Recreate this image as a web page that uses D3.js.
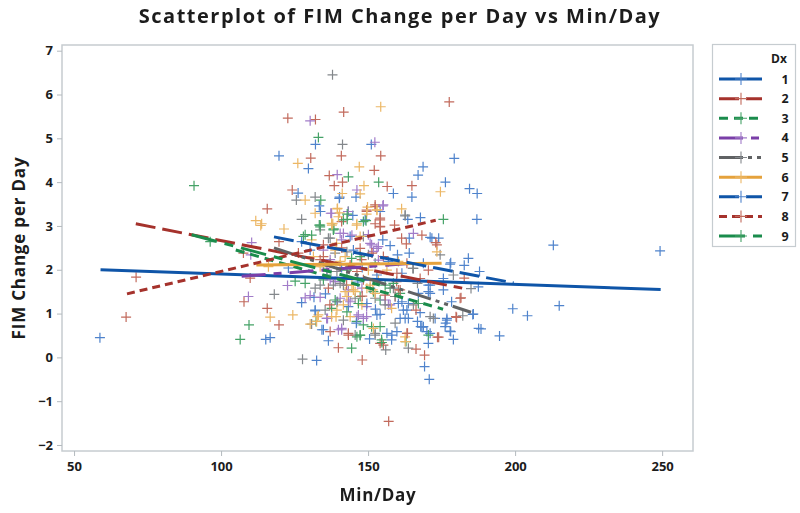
<!DOCTYPE html>
<html>
<head>
<meta charset="utf-8">
<script src="https://cdn.jsdelivr.net/npm/d3@7"></script>
<style>
  body { margin: 0; background: #fff; }
  text { font-family: "Open Sans", sans-serif; fill: #1c1c1c; }
</style>
</head>
<body>
<svg width="800" height="513"></svg>
<script>
const xTicks = [50, 100, 150, 200, 250];
const yTicks = [-2, -1, 0, 1, 2, 3, 4, 5, 6, 7];
const dxNames = ["1", "2", "3", "4", "5", "6", "7", "8", "9"];
const xDomain = [45.9, 260.5];
const yDomain = [-2.137, 7.13];

const dx1 = [[58.8,.45],[132.1,4.86],[151.1,4.86],[119.7,4.6],[179.3,4.54],[129.7,4.31],[168.7,4.35],[167,4.16],[176.3,4],[184.5,3.85],[187.1,3.74],[158.6,3.74],[164.9,3.66],[126.2,3.75],[133.4,3.46],[133.8,3.33],[140.3,3.66],[145.9,3.66],[154.1,3.33],[163.5,3.15],[167.8,3.19],[187,3.15],[144.8,3.24],[171.7,2.72],[174,2.72],[164,2.72],[160,2.34],[164,2.38],[177.9,2.13],[127.4,2.64],[122.9,2.04],[130.3,2.45],[143.9,2.76],[149,3.14],[155,2.68],[145,2.45],[140.2,3.63],[127.4,1.25],[131.6,1.37],[115.2,.41],[116.7,.45],[132.5,-.07],[132,1.06],[134.3,.63],[136.5,.38],[169.2,-.21],[170.8,-.5],[170.5,.32],[179,.41],[177.9,.6],[176.4,.78],[185.8,.99],[187.6,.66],[188.4,.65],[194.7,.49],[199.2,1.11],[204.2,.95],[215,1.18],[213,2.56],[249.3,2.43],[184.1,2.26],[182.7,2.1],[187.9,1.96],[185.6,.98],[187.5,1.61],[178.1,2.16],[171.1,2.74],[176.8,.85],[167.7,1.02],[168.3,.69],[170,.59],[163.7,.89],[160.9,.89],[162.6,.89],[171.1,1.65],[170.5,1.5],[178.4,1.27],[143.3,1.16],[160.3,1.23],[163.2,1.08],[154.1,.98],[156.4,.55],[158,.4],[159.8,.59],[171.1,.55],[166.8,.82],[167.9,.7],[168.8,.7],[172.8,.89],[176.8,.89],[176.2,.7],[178.1,.59],[170.5,1.65],[171.1,1.46],[175.6,1.54],[163.7,1.23],[161.5,1.27],[161.5,1.92],[175.6,1.8],[139.4,1.27],[150.7,1.58]];
const dx2 = [[177.6,5.83],[141.7,5.6],[122.7,5.46],[132.1,5.43],[140.9,4.6],[154.3,4.6],[152.1,4.27],[136.8,4.15],[138.5,3.92],[141.3,4],[156.5,3.9],[164.9,3.92],[124.2,3.82],[115.7,3.39],[152.4,3.44],[149.5,3.36],[141,3.1],[154.1,3.14],[152.4,3.05],[154.1,2.98],[159,3.02],[161.4,2.72],[168.3,2.79],[163,2.59],[173.4,2.57],[107.6,2.38],[119.7,2.64],[134.8,2.57],[133.7,2.23],[126.3,2.38],[71.1,1.83],[109.9,1.81],[107.8,1.27],[115.7,1.12],[119.7,.74],[137.1,.59],[139.9,.22],[157,-1.46],[148,-.06],[169.2,.05],[166.3,.19],[155.2,.28],[174,.46],[180.1,.91],[181.3,1.35],[182.7,1.81],[181.6,1.36],[173,2.62],[143.3,.55],[154.1,.32],[163.4,.55],[173.6,.46],[179.9,.93],[160.3,1.54],[142.7,1.65],[159.7,1.73],[167.7,1.8],[170.5,1.99],[166.3,1.08],[136.5,1.58],[154.1,3.18],[154.1,2.99],[152.4,3.48],[149.5,3.33],[147.3,2.49],[147.8,2.23],[155.2,2.3],[143.9,2.07],[148.4,1.77],[159.2,1.39]];
const dx3 = [[153.6,4],[175.6,3.15],[142.9,3.15],[133.4,3.02],[138.2,2.93],[143.3,3.33],[141.6,3.14],[138.4,2.93],[148.4,3.1],[144.4,2.26],[152.4,2.15],[128.6,2.8],[133.7,3.02],[138.2,2.91],[125.2,1.74],[128.6,1.69],[132.3,.82],[144.4,.21],[154.7,.34],[137.6,1.12],[146.1,.82],[148.4,.74],[147.3,.5],[151.2,.7],[154.6,.4],[162.9,.36],[170.5,.51],[167.1,1.23],[154.1,1.31],[157.5,1.58],[155.8,1.65],[134.8,1.77],[136,1.88],[147.3,1.39],[151.8,1.5],[160.9,1.46]];
const dx4 = [[130.3,5.4],[152.3,4.91],[139.5,4.17],[146.2,3.82],[155,3.46],[137.3,3.29],[143.2,3.33],[165.4,2.83],[110.4,2.62],[110.1,2.34],[122.6,1.64],[109.3,1.39],[128.6,1.36],[130.3,1.41],[133.7,1.37],[136.2,.89],[139.9,.63],[143.9,1.27],[149.5,1.16],[156.9,1.2],[149.5,.93],[146.7,.97],[141,.63],[140.5,1.35],[137.1,1.77],[137.6,3.29],[141.6,2.83],[150.1,2.8],[155.2,3.48],[151.2,2.57],[153.5,2.53],[141,2.68],[151.8,2.42],[134.8,2.45],[137.1,2.23],[143.3,1.31],[157.5,1.2],[138.8,1.73],[143.3,1.54],[155.8,1.31],[140.5,2.83],[144.5,2.79],[150.7,2.6],[153,2.49],[153.5,2.22],[136,1.99],[147.9,1.58],[146.2,.93],[148.4,.89],[141,.66],[135.9,.89]];
const dx5 = [[137.9,6.45],[141.3,4.86],[125.6,3.59],[132,3.66],[162.6,3.23],[127.4,3.15],[118.1,1.44],[132,1.58],[127.7,-.04],[130.8,.76],[135.4,1.08],[156,.17],[163.7,.21],[185,1.57],[182.2,.95],[179,1.88],[172.2,.89],[174.5,2.34],[162.6,3.25],[148.4,2.76],[150.1,2.34],[133.7,2.91],[136.5,2.72],[134.8,2.07],[138.8,2.38],[138.2,1.65],[139.6,1.27],[145.6,1.35],[155.8,1.2],[159.2,1.39],[141.6,.85],[145.6,.51],[152.4,.55],[171.1,.93],[166.8,1.69],[165.2,2.03],[141.6,1.65],[133.7,1.65],[158.6,1.58],[137.1,2.72],[142.8,2.41],[137.1,2.15],[139.4,1.96],[165.4,2.03],[140.5,1.69],[152.4,1.35],[152.4,.51],[159.2,.78],[165.4,1.2]];
const dx6 = [[154.3,5.72],[126.1,4.43],[147,4.35],[174.6,3.78],[148.6,3.92],[147.3,3.73],[128.6,3.59],[141.2,3.74],[149.8,3.43],[153,3.36],[161.4,3.39],[132,3.29],[139.5,3.39],[140.3,3.3],[149.5,3.27],[146.2,3.05],[138,3.05],[113.8,3.05],[121.4,2.93],[111.8,3.12],[113.5,3.01],[173.4,2.41],[116.7,.92],[124.4,.97],[130.3,.76],[132.7,.93],[137.6,.93],[139.1,.93],[141.6,1.2],[147.9,1.2],[158,1.12],[143.9,.93],[151.8,.66],[162.6,.47],[151.6,1.54],[150.7,1.65],[145,1.54],[142.2,1.5],[139.6,3.4],[139.9,3.21],[137.6,3.06],[146.1,3.02],[153,3.37],[139.3,2.6],[142.2,2.3],[140.5,2.11],[130.8,2.68],[137.7,3.02],[131.4,2.3],[116.1,2.07],[145.6,1.5],[149.6,1.58],[153.5,1.77],[132.5,.82],[147.3,2.76],[138.8,2.45],[140.5,2.19],[133.7,2.07],[150.1,1.99],[156.4,1.99],[160.3,2.19],[144.5,1.65],[162.6,.36],[139.4,1.08],[133.1,.97],[142.8,1.39],[152.4,1.46]];
const dx7 = [[153,1.88],[156.9,2.19],[168.8,2.15],[149.6,1.23],[153,.97],[158.1,.51],[134.8,.63],[132,1.08],[167.1,1.46],[162,1.08],[148,2.05],[135.5,1.45],[146,.78],[150.5,.42],[141,2.05],[157.5,2.55],[152.5,1.1],[146.5,1.72]];
const dx8 = [[67.7,.92],[130.5,4.55],[134.8,2.3],[143.9,2.11],[146.2,1.96],[159.8,1.92],[163.2,2.15],[151.3,2.38],[143.3,.51],[163.2,.55],[155.8,1.42],[160.9,1.54],[137,1.2],[148,1.4],[141,2.5]];
const dx9 = [[133.1,5.02],[143.3,4.12],[133.9,3.59],[142.9,3.27],[149.3,3.12],[90.8,3.92],[96.3,2.64],[130.8,2.79],[133.7,2.98],[128,2.76],[147.3,2.3],[142.8,1.99],[146.7,1.23],[142.8,1.04],[146.2,.47],[147.3,.51],[154.1,.7],[138.8,1.31],[158.6,1.69],[109.5,.74],[106.5,.41]];

// fitted lines, [x0, y0, x1, y1]
const fit1 = [59, 2.0, 249.5, 1.55];
const fit2 = [71, 3.05, 182, 1.58];
const fit3 = [105, 2.45, 175.5, 1.1];
const fit4 = [107, 1.85, 165, 2.15];
const fit5 = [118, 2.5, 185, 1.03];
const fit6 = [112, 2.11, 175, 2.15];
const fit7 = [118, 2.75, 199.5, 1.7];
const fit8 = [68, 1.45, 173, 3.13];
const fit9 = [90, 2.8, 154, 1.65];

const allPoints = [dx1, dx2, dx3, dx4, dx5, dx6, dx7, dx8, dx9];
const allFits = [fit1, fit2, fit3, fit4, fit5, fit6, fit7, fit8, fit9];
const markColors = ["#4f83cc", "#c26a5c", "#45a267", "#a27cc9", "#84888c", "#ecb765", "#4f83cc", "#c26a5c", "#45a267"];
const lineColors = ["#0f55a8", "#a5322c", "#1a8c4c", "#7a3fa8", "#606264", "#e5a23c", "#0f55a8", "#a5322c", "#1a8c4c"];
const dashes = ["none", "20 7", "9 6", "24 8 8 8", "24 5 4 5 4 5", "none", "20 7", "8 5", "26 8 9 8"];

const svg = d3.select("svg");
const x = d3.scaleLinear().domain(xDomain).range([62, 693]);
const y = d3.scaleLinear().domain(yDomain).range([451, 45]);

const plus = { draw(c, s) { c.moveTo(-s, 0); c.lineTo(s, 0); c.moveTo(0, -s); c.lineTo(0, s); } };
const plusPath = d3.symbol().type(plus).size(5);
const smallPlus = d3.symbol().type(plus).size(6);

// frame
svg.append("rect").attr("x", 62).attr("y", 45).attr("width", 631).attr("height", 406)
  .attr("fill", "none").attr("stroke", "#c6ccd0").attr("stroke-width", 1.5);

const xAxis = svg.append("g").attr("transform", "translate(0,451)")
  .call(d3.axisBottom(x).tickValues(xTicks).tickSize(5).tickPadding(6));
const yAxis = svg.append("g").attr("transform", "translate(62,0)")
  .call(d3.axisLeft(y).tickValues(yTicks).tickSize(5).tickPadding(4).tickFormat(d3.format("d")));
[xAxis, yAxis].forEach(a => {
  a.select(".domain").remove();
  a.selectAll("line").attr("stroke", "#b4babe");
  a.selectAll("text").style("font-size", "13px").style("font-weight", 700);
});

const marks = svg.append("g").style("filter", "blur(0.4px)");
allPoints.forEach((pts, i) => {
  marks.append("g").selectAll("path").data(pts).enter().append("path")
    .attr("d", plusPath)
    .attr("transform", d => "translate(" + x(d[0]) + "," + y(d[1]) + ")")
    .attr("fill", "none").attr("stroke", markColors[i]).attr("stroke-width", 1.2);
});
allFits.forEach((f, i) => {
  marks.append("line")
    .attr("x1", x(f[0])).attr("y1", y(f[1])).attr("x2", x(f[2])).attr("y2", y(f[3]))
    .attr("stroke", lineColors[i]).attr("stroke-width", 3)
    .attr("stroke-dasharray", dashes[i]);
});

svg.append("text").attr("x", 400).attr("y", 23).attr("text-anchor", "middle")
  .style("font-size", "20px").style("font-weight", 700).style("letter-spacing", "1.5px")
  .text("Scatterplot of FIM Change per Day vs Min/Day");
svg.append("text").attr("x", 378).attr("y", 501).attr("text-anchor", "middle")
  .style("font-size", "17px").style("font-weight", 700).style("letter-spacing", "0.7px")
  .text("Min/Day");
svg.append("text").attr("transform", "translate(25,248) rotate(-90)").attr("text-anchor", "middle")
  .style("font-size", "17px").style("font-weight", 700).style("letter-spacing", "0.8px")
  .text("FIM Change per Day");

// legend
const legend = svg.append("g");
legend.append("rect").attr("x", 712.5).attr("y", 44.5).attr("width", 83).attr("height", 202)
  .attr("fill", "none").attr("stroke", "#c6ccd0").attr("stroke-width", 1.2);
legend.append("text").attr("x", 779).attr("y", 63).attr("text-anchor", "middle")
  .style("font-size", "12px").style("font-weight", 700).text("Dx");
const rowY = d3.scalePoint().domain(dxNames).range([79, 236]);
dxNames.forEach((name, i) => {
  const ry = rowY(name);
  legend.append("line").attr("x1", 719).attr("x2", 762).attr("y1", ry).attr("y2", ry)
    .attr("stroke", lineColors[i]).attr("stroke-width", 3)
    .attr("stroke-dasharray", dashes[i]);
  legend.append("path").attr("d", smallPlus).attr("transform", "translate(741," + ry + ")")
    .attr("fill", "none").attr("stroke", markColors[i]).attr("stroke-width", 1.1);
  legend.append("text").attr("x", 785).attr("y", ry + 4.5).attr("text-anchor", "middle")
    .style("font-size", "12.5px").style("font-weight", 700).text(name);
});
</script>
</body>
</html>
